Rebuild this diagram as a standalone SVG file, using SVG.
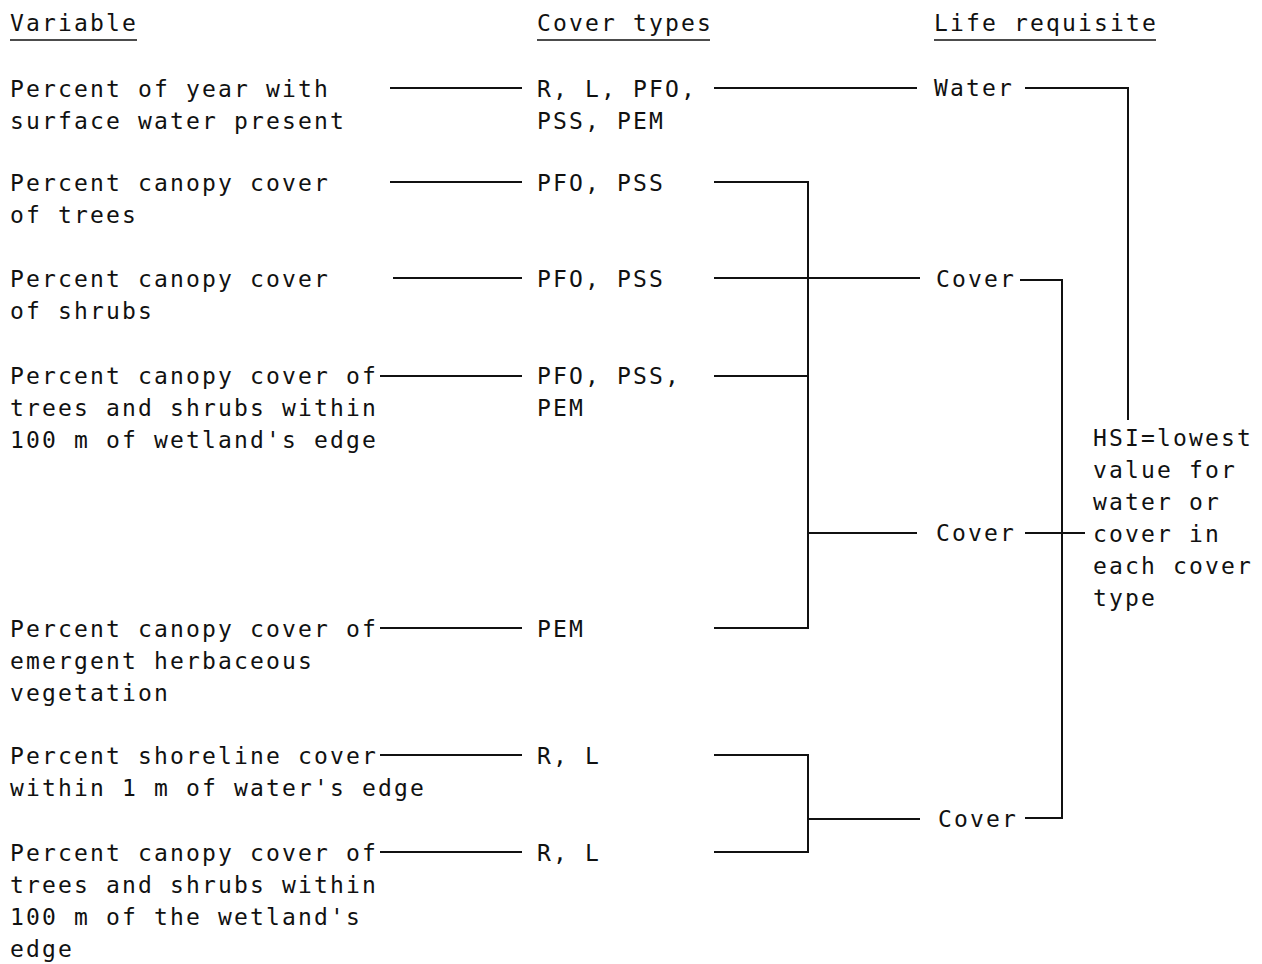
<svg xmlns="http://www.w3.org/2000/svg" width="1262" height="964" viewBox="0 0 1262 964">
<style>
text{font-family:"DejaVu Sans Mono","Liberation Mono",monospace;font-size:23px;letter-spacing:2.15px;fill:#111}
.c line,.c path{stroke:#111;stroke-width:2;fill:none}
.u{stroke:#111;stroke-width:1.6}
</style>
<rect width="1262" height="964" fill="#fff"/>
<g id="headers">
<text x="10" y="31">Variable</text><line class="u" x1="10" y1="40" x2="137" y2="40"/>
<text x="537" y="31">Cover types</text><line class="u" x1="537" y1="40" x2="710" y2="40"/>
<text x="934" y="31">Life requisite</text><line class="u" x1="934" y1="40" x2="1156" y2="40"/>
</g>
<g id="var1"><text x="10" y="97">Percent of year with</text><text x="10" y="129">surface water present</text></g>
<g id="var2"><text x="10" y="191">Percent canopy cover</text><text x="10" y="223">of trees</text></g>
<g id="var3"><text x="10" y="287">Percent canopy cover</text><text x="10" y="319">of shrubs</text></g>
<g id="var4"><text x="10" y="384">Percent canopy cover of</text><text x="10" y="416">trees and shrubs within</text><text x="10" y="448">100 m of wetland's edge</text></g>
<g id="var5"><text x="10" y="637">Percent canopy cover of</text><text x="10" y="669">emergent herbaceous</text><text x="10" y="701">vegetation</text></g>
<g id="var6"><text x="10" y="764">Percent shoreline cover</text><text x="10" y="796">within 1 m of water's edge</text></g>
<g id="var7"><text x="10" y="861">Percent canopy cover of</text><text x="10" y="893">trees and shrubs within</text><text x="10" y="925">100 m of the wetland's</text><text x="10" y="957">edge</text></g>
<g id="ct1"><text x="537" y="97">R, L, PFO,</text><text x="537" y="129">PSS, PEM</text></g>
<g id="ct2"><text x="537" y="191">PFO, PSS</text></g>
<g id="ct3"><text x="537" y="287">PFO, PSS</text></g>
<g id="ct4"><text x="537" y="384">PFO, PSS,</text><text x="537" y="416">PEM</text></g>
<g id="ct5"><text x="537" y="637">PEM</text></g>
<g id="ct6"><text x="537" y="764">R, L</text></g>
<g id="ct7"><text x="537" y="861">R, L</text></g>
<g id="lr1"><text x="934" y="96">Water</text></g>
<g id="lr2"><text x="936" y="287">Cover</text></g>
<g id="lr3"><text x="936" y="541">Cover</text></g>
<g id="lr4"><text x="938" y="827">Cover</text></g>
<g id="hsi"><text x="1093" y="446">HSI=lowest</text><text x="1093" y="478">value for</text><text x="1093" y="510">water or</text><text x="1093" y="542">cover in</text><text x="1093" y="574">each cover</text><text x="1093" y="606">type</text></g>
<g id="connectors" class="c">
<line x1="390" y1="88" x2="522" y2="88"/>
<line x1="390" y1="182" x2="522" y2="182"/>
<line x1="393" y1="278" x2="522" y2="278"/>
<line x1="380" y1="376" x2="522" y2="376"/>
<line x1="380" y1="628" x2="522" y2="628"/>
<line x1="380" y1="755" x2="522" y2="755"/>
<line x1="380" y1="852" x2="522" y2="852"/>
<line x1="714" y1="88" x2="917" y2="88"/>
<path d="M1025 88H1128V420"/>
<path d="M714 182H808V628H714"/>
<line x1="714" y1="376" x2="808" y2="376"/>
<line x1="714" y1="278" x2="920" y2="278"/>
<line x1="808" y1="533" x2="917" y2="533"/>
<path d="M1020 280H1062V818H1025"/>
<line x1="1025" y1="533" x2="1085" y2="533"/>
<path d="M714 755H808V852H714"/>
<line x1="808" y1="819" x2="920" y2="819"/>
</g>
</svg>
